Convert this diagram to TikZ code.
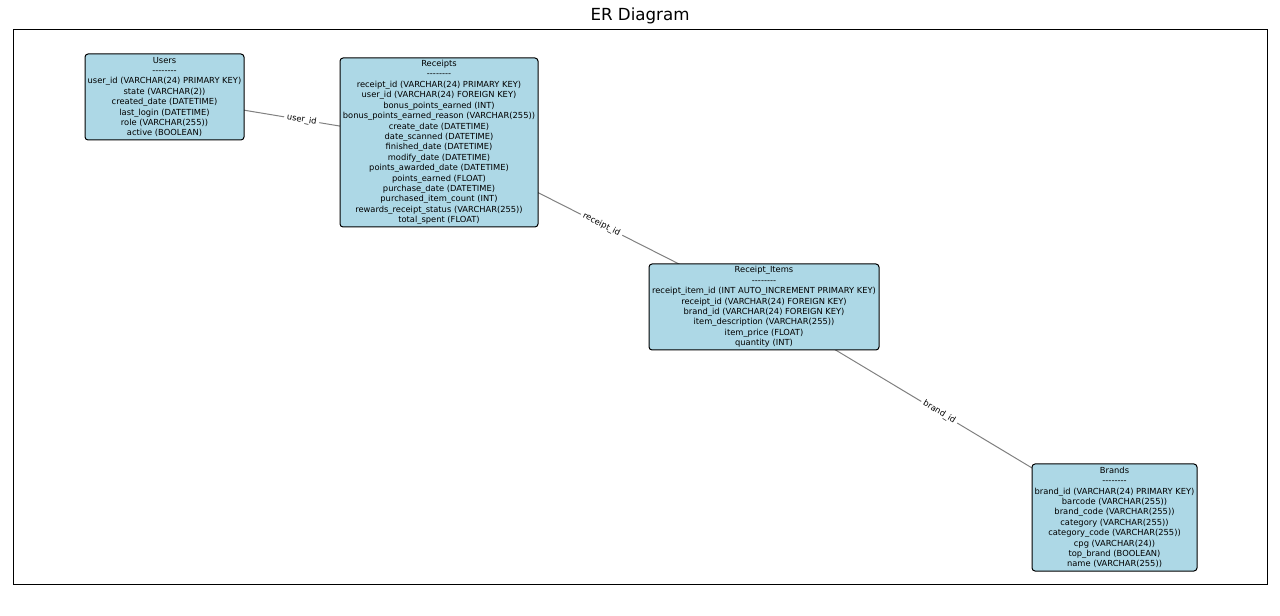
\documentclass[tikz,border=0pt]{standalone}
\usepackage{fontspec}
\newfontfamily\dv{DejaVu Sans}
\usetikzlibrary{backgrounds}
\definecolor{boxblue}{HTML}{ADD8E6}
\definecolor{edgegray}{HTML}{808080}
\tikzset{
  entity/.style={draw=black, line width=0.72pt, fill=boxblue, rounded corners=2.2pt,
    align=center, inner sep=0pt, font=\dv\fontsize{6}{7.5}\selectfont},
  rel/.style={draw=edgegray, line width=0.72pt},
  rellabel/.style={midway, sloped, fill=white, inner sep=2pt, text=black,
    font=\dv\fontsize{6}{7.2}\selectfont}
}
\newcommand\dashrow{--------}
\begin{document}
\begin{tikzpicture}[x=0.72pt, y=-0.72pt]
\useasboundingbox (0,0) rectangle (1280,616);
\node[font=\dv\fontsize{12}{14}\selectfont] (title) at (640,16) {ER Diagram};
\node[draw=black, line width=0.72pt, minimum width=1254*0.72pt, minimum height=554*0.72pt, inner sep=0pt] (frame) at (640,307) {};

\node[entity, minimum width=159*0.72pt, minimum height=86*0.72pt] (u) at (164.5,97) {Users\\ \dashrow\\ user\_id (VARCHAR(24) PRIMARY KEY)\\ state (VARCHAR(2))\\ created\_date (DATETIME)\\ last\_login (DATETIME)\\ role (VARCHAR(255))\\ active (BOOLEAN)};

\node[entity, minimum width=198*0.72pt, minimum height=169*0.72pt] (r) at (439,142.5) {Receipts\\ \dashrow\\ receipt\_id (VARCHAR(24) PRIMARY KEY)\\ user\_id (VARCHAR(24) FOREIGN KEY)\\ bonus\_points\_earned (INT)\\ bonus\_points\_earned\_reason (VARCHAR(255))\\ create\_date (DATETIME)\\ date\_scanned (DATETIME)\\ finished\_date (DATETIME)\\ modify\_date (DATETIME)\\ points\_awarded\_date (DATETIME)\\ points\_earned (FLOAT)\\ purchase\_date (DATETIME)\\ purchased\_item\_count (INT)\\ rewards\_receipt\_status (VARCHAR(255))\\ total\_spent (FLOAT)};

\node[entity, minimum width=230*0.72pt, minimum height=86*0.72pt] (ri) at (764,307) {Receipt\_Items\\ \dashrow\\ receipt\_item\_id (INT AUTO\_INCREMENT PRIMARY KEY)\\ receipt\_id (VARCHAR(24) FOREIGN KEY)\\ brand\_id (VARCHAR(24) FOREIGN KEY)\\ item\_description (VARCHAR(255))\\ item\_price (FLOAT)\\ quantity (INT)};

\node[entity, minimum width=165*0.72pt, minimum height=107*0.72pt] (b) at (1114.5,517.5) {Brands\\ \dashrow\\ brand\_id (VARCHAR(24) PRIMARY KEY)\\ barcode (VARCHAR(255))\\ brand\_code (VARCHAR(255))\\ category (VARCHAR(255))\\ category\_code (VARCHAR(255))\\ cpg (VARCHAR(24))\\ top\_brand (BOOLEAN)\\ name (VARCHAR(255))};

\begin{pgfonlayer}{background}
\draw[rel] (u.center) -- (r.center) node[rellabel] (l1) {user\_id};
\draw[rel] (r.center) -- (ri.center) node[rellabel] (l2) {receipt\_id};
\draw[rel] (ri.center) -- (b.center) node[rellabel] (l3) {brand\_id};
\end{pgfonlayer}
\end{tikzpicture}
\end{document}
